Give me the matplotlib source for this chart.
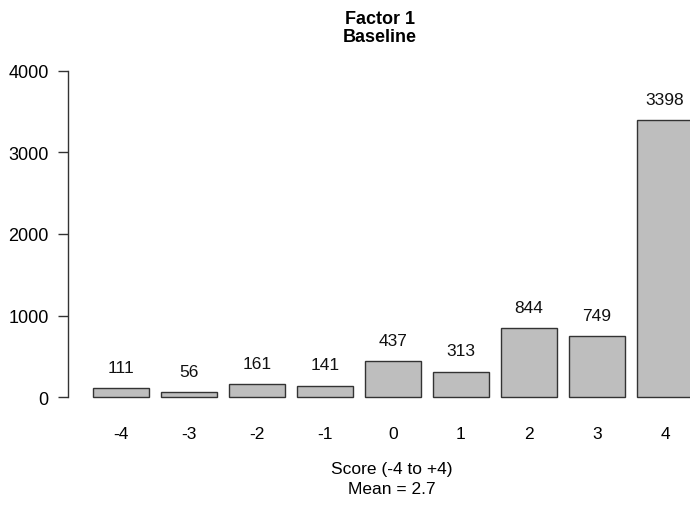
import matplotlib
matplotlib.use("Agg")
import matplotlib.pyplot as plt
import numpy as np

plt.rcParams.update({
    "font.family": ["Liberation Sans", "DejaVu Sans"],
    "font.size": 12.5,
})

# data
scores = ["-4", "-3", "-2", "-1", "0", "1", "2", "3", "4"]
counts = [111, 56, 161, 141, 437, 313, 844, 749, 3398]
mean_score = 2.7

W, H = 690, 506
fig = plt.figure(figsize=(W / 100, H / 100), dpi=100)

# axes placed in pixel terms, R-style barplot
ax = fig.add_axes([68 / W, (H - 410) / H, 1 - 68 / W, 350 / H])

x = np.arange(len(scores))
ax.bar(x, counts, width=0.833, color="#bebebe", edgecolor="#333333",
       linewidth=1.0)

ax.set_xlim(-0.779, 8.368)
ax.set_ylim(-147, 4147)

for xi, c in zip(x, counts):
    ax.annotate(str(c), (xi, c), xytext=(0, 15), textcoords="offset points",
                ha="center", va="center", fontsize=12.5, color="#111111")

for s in ["top", "right", "bottom"]:
    ax.spines[s].set_visible(False)
ax.spines["left"].set_bounds(0, 4000)
ax.spines["left"].set_color("#333333")
ax.spines["left"].set_linewidth(1.0)

ax.set_yticks([0, 1000, 2000, 3000, 4000])
ax.tick_params(axis="y", length=7, width=1.0, color="#333333", pad=7,
               labelsize=13)
ax.set_xticks(x)
ax.set_xticklabels(scores)
ax.tick_params(axis="x", length=0, pad=12, labelsize=12.5)

fig.text(380 / W, 1 - 19 / H, "Factor 1", ha="center", va="center",
         fontsize=13, fontweight="bold")
fig.text(380 / W, 1 - 38 / H, "Baseline", ha="center", va="center",
         fontsize=13, fontweight="bold")

fig.text(392 / W, 1 - 470 / H, "Score (-4 to +4)", ha="center", va="center",
         fontsize=12.5)
fig.text(392 / W, 1 - 490 / H, f"Mean = {mean_score}", ha="center",
         va="center", fontsize=12.5)

fig.savefig("out.png", dpi=100)
